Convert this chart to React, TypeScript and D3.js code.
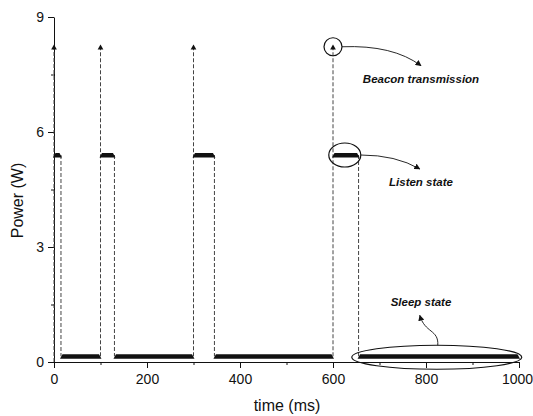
import React, { useEffect, useRef } from 'react';
import * as d3 from 'd3';

// power levels (W)
const beaconPower = 8.25;
const listenPower = 5.4;
const sleepPower = 0.15;

// beacon transmissions (ms)
const beaconTimes = [0, 100, 300, 600];
// listen intervals [start, end] (ms)
const listenStart = [0, 100, 300, 600];
const listenEnd = [15, 130, 345, 655];
// sleep intervals
const sleepStart = [15, 130, 345, 655];
const sleepEnd = [100, 300, 600, 1000];

const xTicks = [0, 200, 400, 600, 800, 1000];
const xMinor = [100, 300, 500, 700, 900];
const yTicks = [0, 3, 6, 9];
const yMinor = [1.5, 4.5, 7.5];

const W = 533;
const H = 416;
const FONT = "Arial, 'Liberation Sans', sans-serif";

export default function App() {
  const ref = useRef<SVGSVGElement>(null);

  useEffect(() => {
    const svg = d3.select(ref.current);
    svg.selectAll('*').remove();

    const x = d3.scaleLinear().domain([0, 1000]).range([54, 519]);
    const y = d3.scaleLinear().domain([0, 9]).range([362, 17]);

    const defs = svg.append('defs');
    defs.append('marker')
      .attr('id', 'ah')
      .attr('viewBox', '0 0 10 10')
      .attr('refX', 9).attr('refY', 5)
      .attr('markerWidth', 6).attr('markerHeight', 6)
      .attr('markerUnits', 'userSpaceOnUse')
      .attr('orient', 'auto')
      .append('path').attr('d', 'M0,0L10,5L0,10Z').attr('fill', '#111');

    // axes
    svg.append('g').attr('transform', 'translate(54,0)')
      .call(d3.axisLeft(y).tickValues(yTicks).tickSize(6).tickSizeOuter(0).tickPadding(4).tickFormat(d3.format('d')));
    svg.append('g').attr('transform', 'translate(54,0)')
      .call(d3.axisLeft(y).tickValues(yMinor).tickSize(3).tickSizeOuter(0).tickFormat(() => ''))
      .select('.domain').remove();
    const xg = svg.append('g').attr('transform', 'translate(0,362)')
      .call(d3.axisBottom(x).tickValues(xTicks).tickSize(6).tickSizeOuter(0).tickPadding(6).tickFormat(d3.format('d')));
    svg.append('g').attr('transform', 'translate(0,362)')
      .call(d3.axisBottom(x).tickValues(xMinor).tickSize(3).tickSizeOuter(0).tickFormat(() => ''))
      .select('.domain').remove();
    svg.selectAll('.tick text').attr('font-family', FONT).attr('font-size', 14).attr('fill', '#111');
    svg.selectAll('.domain, .tick line').attr('stroke', '#111');
    // keep last label inside the frame
    xg.selectAll('.tick text').filter((d) => d === 1000).attr('dx', -2);

    // axis titles
    svg.append('text')
      .attr('transform', `translate(23,${(y(0) + y(9)) / 2 + 11}) rotate(-90)`)
      .attr('text-anchor', 'middle')
      .attr('font-family', FONT).attr('font-size', 16).attr('fill', '#111')
      .text('Power (W)');
    svg.append('text')
      .attr('x', 287).attr('y', 411)
      .attr('text-anchor', 'middle')
      .attr('font-family', FONT).attr('font-size', 16).attr('fill', '#111')
      .text('time (ms)');

    const dash = svg.append('g')
      .attr('stroke', '#444').attr('stroke-width', 1)
      .attr('stroke-dasharray', '4,2').attr('fill', 'none');

    // beacon lines up
    beaconTimes.forEach((t) => {
      dash.append('line')
        .attr('x1', x(t)).attr('x2', x(t))
        .attr('y1', t === 0 ? y(0) : y(sleepPower)).attr('y2', y(beaconPower) + 3);
    });
    // listen end lines down
    listenEnd.forEach((t) => {
      dash.append('line')
        .attr('x1', x(t)).attr('x2', x(t))
        .attr('y1', y(listenPower)).attr('y2', y(sleepPower));
    });

    // beacon arrowheads
    svg.append('g').selectAll('path')
      .data(beaconTimes)
      .enter()
      .append('path')
      .attr('d', d3.symbol(d3.symbolTriangle, 14))
      .attr('transform', (d) => `translate(${x(d)},${y(beaconPower) + 2})`)
      .attr('fill', '#111');

    // state bands
    const band = (a: number, b: number, p: number) => {
      const x0 = x(a), x1 = x(b), c = y(p);
      return `M${x0 - 1},${c + 2.5}L${x0 + 1.5},${c - 2}L${x1 - 1.5},${c - 2}L${x1 + 1},${c + 2.5}Z`;
    };
    svg.append('g').selectAll('path')
      .data(listenStart.map((s, i) => [s, listenEnd[i]]))
      .enter()
      .append('path')
      .attr('d', (d) => band(d[0], d[1], listenPower))
      .attr('fill', '#111');
    svg.append('g').selectAll('path')
      .data(sleepStart.map((s, i) => [s, sleepEnd[i]]))
      .enter()
      .append('path')
      .attr('d', (d) => band(d[0], d[1], sleepPower))
      .attr('fill', '#111');

    // annotations
    const ann = svg.append('g').attr('stroke', '#111').attr('fill', 'none');
    const bx = x(600), by = y(beaconPower) + 1;
    ann.append('circle').attr('cx', bx).attr('cy', by).attr('r', 9).attr('stroke-width', 1.2);
    ann.append('path')
      .attr('d', `M${bx + 9},${by}Q${bx + 60},${by - 2} ${bx + 88},${by + 19}`)
      .attr('stroke-width', 0.9).attr('marker-end', 'url(#ah)');

    const lx = (x(600) + x(655)) / 2, ly = y(listenPower);
    ann.append('ellipse').attr('cx', lx - 1).attr('cy', ly).attr('rx', 16).attr('ry', 12).attr('stroke-width', 1.2);
    ann.append('path')
      .attr('d', `M${lx + 15},${ly}Q${lx + 50},${ly} ${lx + 74},${ly + 14}`)
      .attr('stroke-width', 0.9).attr('marker-end', 'url(#ah)');

    const sx = (x(655) + x(1000)) / 2 - 2, sy = y(sleepPower) + 1;
    ann.append('ellipse').attr('cx', sx).attr('cy', sy).attr('rx', 85).attr('ry', 12).attr('stroke-width', 1.2);
    ann.append('path')
      .attr('d', `M${sx + 1},${sy - 12}C${sx + 2},${sy - 28} ${sx - 12},${sy - 24} ${sx - 17},${sy - 42}`)
      .attr('stroke-width', 0.9).attr('marker-end', 'url(#ah)');

    const label = (tx: number, ty: number, s: string) =>
      svg.append('text')
        .attr('x', tx).attr('y', ty)
        .attr('text-anchor', 'middle')
        .attr('font-family', FONT).attr('font-size', 11.5)
        .attr('font-weight', 'bold').attr('font-style', 'italic')
        .attr('fill', '#111')
        .text(s);
    label(421, 83, 'Beacon transmission');
    label(421, 186, 'Listen state');
    label(421, 306, 'Sleep state');
  }, []);

  return (
    <div>
      <svg ref={ref} width={W} height={H}
        style={{ position: 'absolute', left: 0, top: 0, background: '#fff' }} />
    </div>
  );
}
